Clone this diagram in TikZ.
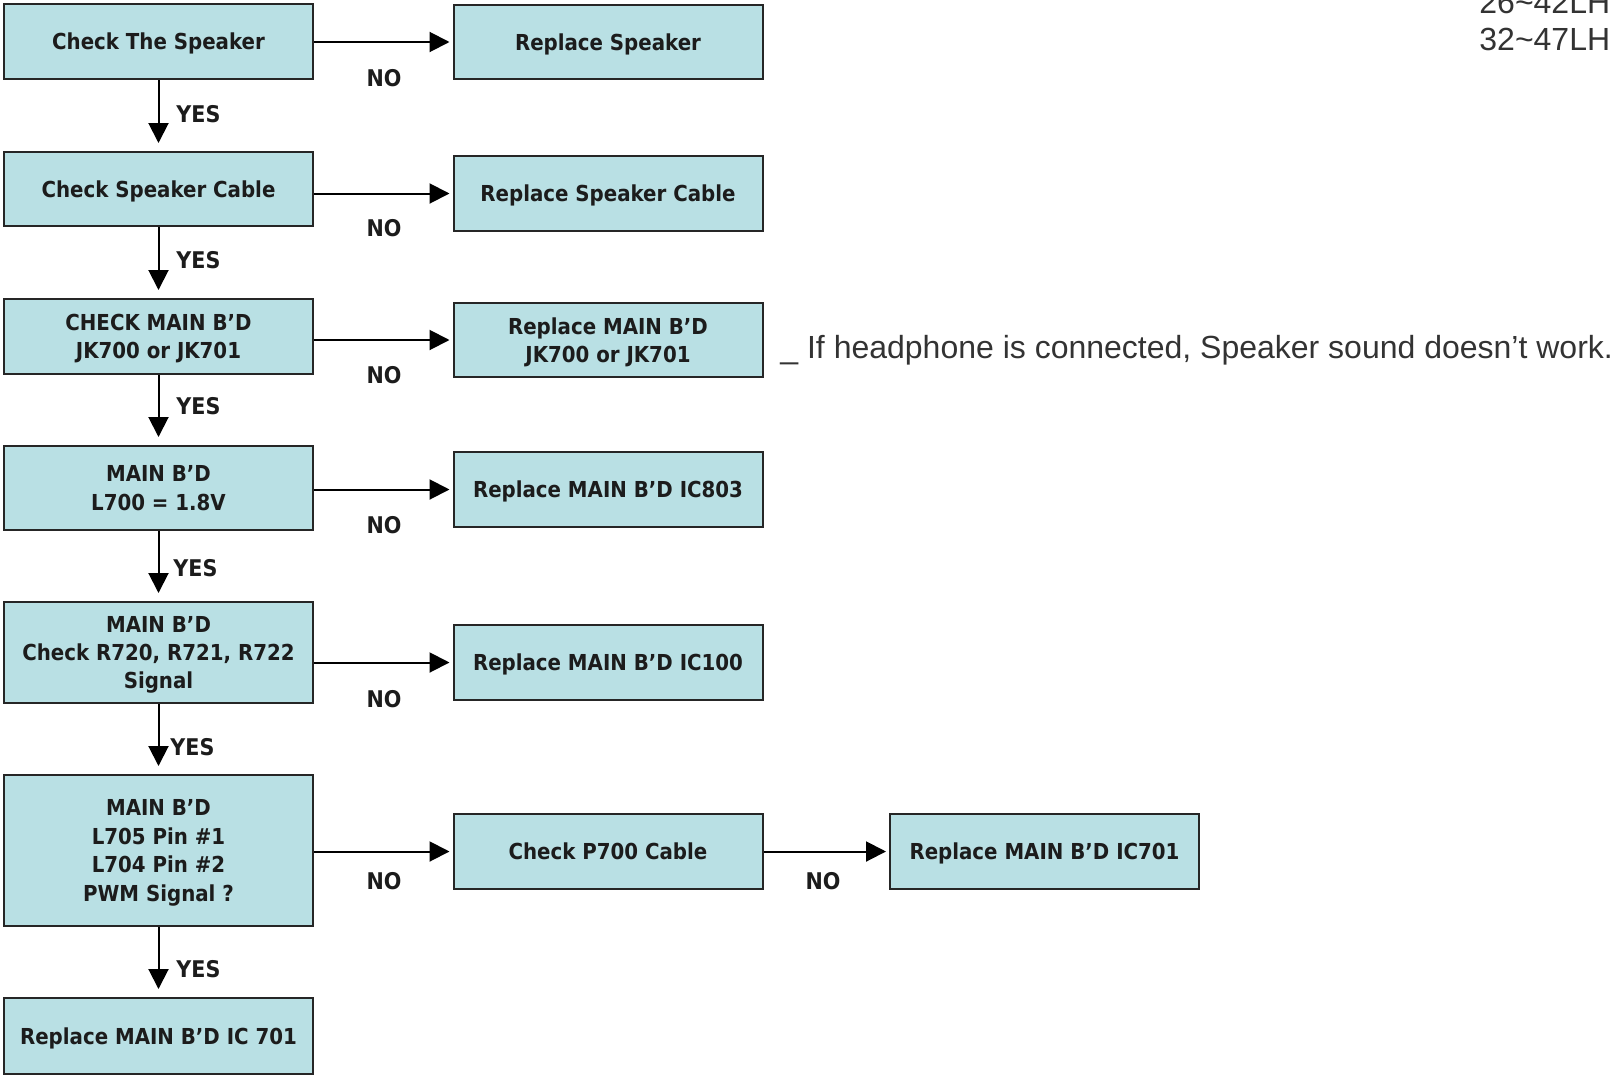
\documentclass[tikz,border=0pt]{standalone}
\usepackage{fontspec}
\setmainfont{Liberation Sans}
\newfontfamily\boxfont{DejaVu Sans Condensed}[BoldFont={DejaVu Sans Condensed Bold}]
\usetikzlibrary{arrows.meta}

\definecolor{boxfill}{RGB}{185,224,228}
\definecolor{boxtext}{RGB}{28,28,28}

\tikzset{
  stepbox/.style={draw=black!85, line width=1pt, fill=boxfill, minimum width=154.5pt,
    align=center, inner sep=0pt, text depth=0pt, text=boxtext,
    font=\boxfont\bfseries\fontsize{11}{14.2}\selectfont},
  arr/.style={line width=1pt, -{Triangle[length=10pt,width=10pt]}},
  lbl/.style={text=boxtext, inner sep=0pt, font=\boxfont\bfseries\fontsize{11.5}{14}\selectfont},
  note/.style={anchor=base west, inner sep=0pt, text=black!80, font=\fontsize{16}{19}\selectfont}
}

\begin{document}
\begin{tikzpicture}[x=0.5pt, y=-0.5pt]
    \useasboundingbox (0, 0) rectangle (1611, 1076);

    % Left column: checks
    \node[stepbox, minimum height=37.5pt] (chkspk)   at (158.5, 41.5)  {Check The Speaker};
    \node[stepbox, minimum height=37pt]   (chkcable) at (158.5, 189)   {Check Speaker Cable};
    \node[stepbox, minimum height=37.5pt] (chkjack)  at (158.5, 336.5) {CHECK MAIN B’D\\JK700 or JK701};
    \node[stepbox, minimum height=42pt]   (chkvolt)  at (158.5, 488)   {MAIN B’D\\L700 = 1.8V};
    \node[stepbox, minimum height=50.5pt] (chksig)   at (158.5, 652.5) {MAIN B’D\\Check R720, R721, R722\\Signal};
    \node[stepbox, minimum height=75.5pt] (chkpwm)   at (158.5, 850.5) {MAIN B’D\\L705 Pin \#1\\L704 Pin \#2\\PWM Signal ?};
    \node[stepbox, minimum height=38pt]   (repic)    at (158.5, 1036)  {Replace MAIN B’D IC 701};

    % Right column: repairs
    \node[stepbox, minimum height=37pt]   (repspk)   at (608, 42)      {Replace Speaker};
    \node[stepbox, minimum height=37.5pt] (repcable) at (608, 193.5)   {Replace Speaker Cable};
    \node[stepbox, minimum height=37pt]   (repjack)  at (608, 340)     {Replace MAIN B’D\\JK700 or JK701};
    \node[stepbox, minimum height=37.5pt] (repvolt)  at (608, 489.5)   {Replace MAIN B’D IC803};
    \node[stepbox, minimum height=37.5pt] (repsig)   at (608, 662.5)   {Replace MAIN B’D IC100};
    \node[stepbox, minimum height=37.5pt] (chkp700)  at (608, 851.5)   {Check P700 Cable};
    \node[stepbox, minimum height=37.5pt] (repic701) at (1044.5, 851.5) {Replace MAIN B’D IC701};

    % YES arrows
    \draw[arr, shorten >=4pt] (chkspk.south)   -- (chkcable.north);
    \draw[arr, shorten >=4pt] (chkcable.south) -- (chkjack.north);
    \draw[arr, shorten >=4pt] (chkjack.south)  -- (chkvolt.north);
    \draw[arr, shorten >=4pt] (chkvolt.south)  -- (chksig.north);
    \draw[arr, shorten >=4pt] (chksig.south)   -- (chkpwm.north);
    \draw[arr, shorten >=4pt] (chkpwm.south)   -- (repic.north);

    % NO arrows
    \draw[arr, shorten >=1.5pt] (chkspk.east |- repspk.west)     -- (repspk.west);
    \draw[arr, shorten >=1.5pt] (chkcable.east |- repcable.west) -- (repcable.west);
    \draw[arr, shorten >=1.5pt] (chkjack.east |- repjack.west)   -- (repjack.west);
    \draw[arr, shorten >=1.5pt] (chkvolt.east |- repvolt.west)   -- (repvolt.west);
    \draw[arr, shorten >=1.5pt] (chksig.east |- repsig.west)     -- (repsig.west);
    \draw[arr, shorten >=1.5pt] (chkpwm.east |- chkp700.west)    -- (chkp700.west);
    \draw[arr, shorten >=1.5pt] (chkp700.east) -- (repic701.west);

    % YES labels
    \node[lbl, anchor=west] (yes1) at (176, 114.5) {YES};
    \node[lbl, anchor=west] (yes2) at (176, 260)   {YES};
    \node[lbl, anchor=west] (yes3) at (176, 406.5) {YES};
    \node[lbl, anchor=west] (yes4) at (173, 568)   {YES};
    \node[lbl, anchor=west] (yes5) at (170, 747)   {YES};
    \node[lbl, anchor=west] (yes6) at (176, 969)   {YES};

    % NO labels
    \node[lbl] (no1) at (384, 78)  {NO};
    \node[lbl] (no2) at (384, 228) {NO};
    \node[lbl] (no3) at (384, 375) {NO};
    \node[lbl] (no4) at (384, 525) {NO};
    \node[lbl] (no5) at (384, 699) {NO};
    \node[lbl] (no6) at (384, 881) {NO};
    \node[lbl] (no7) at (823, 881) {NO};

    % Notes
    \node[note] (hpnote) at (780, 358) {\_ If headphone is connected, Speaker sound doesn’t work.};
    \node[note] (model1) at (1479, 13) {26\textasciitilde 42LH};
    \node[note] (model2) at (1479, 50) {32\textasciitilde 47LH};
\end{tikzpicture}
\end{document}
